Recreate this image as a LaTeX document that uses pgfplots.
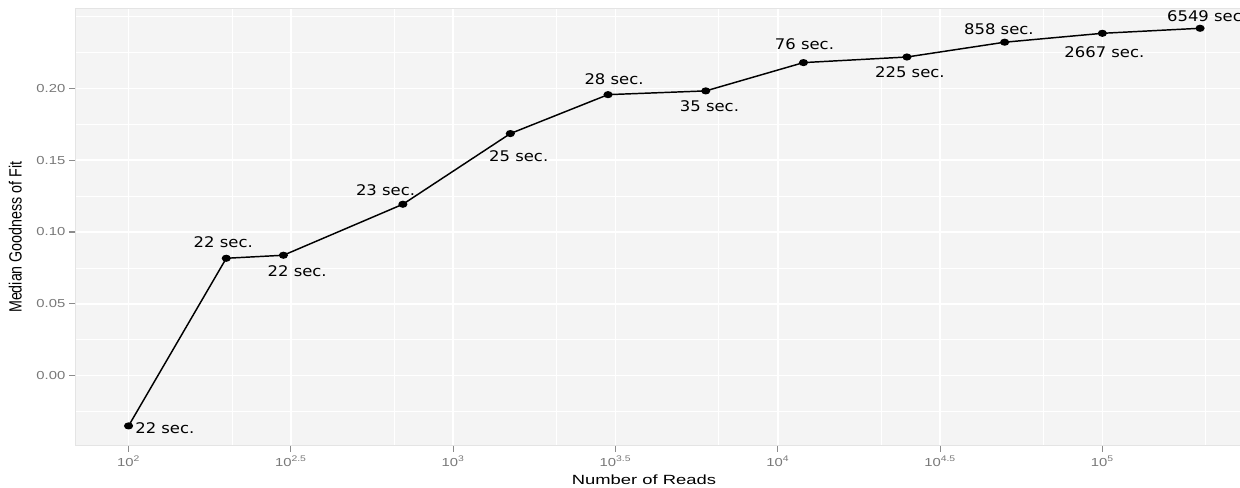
\documentclass[border=0pt]{standalone}
\usepackage{fontspec}
\setmainfont{Liberation Sans}
\newfontfamily\tickfont[FakeStretch=1.28]{Liberation Sans}
\newfontfamily\xtitlefont[FakeStretch=1.38]{Liberation Sans}
\newfontfamily\ytitlefont{Liberation Sans}
\newfontfamily\labfont[FakeStretch=1.12]{DejaVu Sans}
\usepackage{pgfplots}
\pgfplotsset{compat=1.18}
\usetikzlibrary{calc}
\definecolor{panel}{RGB}{244,244,244}
\definecolor{pborder}{RGB}{228,228,228}
\definecolor{ticktext}{RGB}{120,120,120}
\definecolor{tickmark}{RGB}{140,140,140}
\tikzset{lab/.style={font=\labfont\fontsize{11}{13}\selectfont, inner sep=0pt, anchor=center}}
\begin{document}
\begin{tikzpicture}
\begin{axis}[
  name=ax,
  xmode=log,
  scale only axis,
  width=884pt, height=328.05pt,
  xmin=68.4, xmax=292500,
  ymin=-0.04884, ymax=0.25564,
  clip=false,
  axis background/.style={fill=panel},
  axis line style={draw=pborder, line width=0.75pt},
  xtick={100,316.228,1000,3162.28,10000,31622.8,100000},
  xticklabels={{10\textsuperscript{2}},{10\textsuperscript{2.5}},{10\textsuperscript{3}},{10\textsuperscript{3.5}},{10\textsuperscript{4}},{10\textsuperscript{4.5}},{10\textsuperscript{5}}},
  minor xtick={208.1,658.1,2081,6581,20811,65811,208114},
  ytick={0,0.05,0.1,0.15,0.2},
  yticklabels={0.00,0.05,0.10,0.15,0.20},
  minor ytick={-0.025,0.025,0.075,0.125,0.175,0.225,0.25},
  grid=both,
  major grid style={white, line width=1.1pt},
  minor grid style={white, line width=0.55pt},
  tick align=outside,
  tick pos=left,
  major tick length=4.5pt,
  minor tick length=0pt,
  tick style={tickmark, line width=0.8pt},
  xticklabel style={font=\tickfont\fontsize{8.7}{10}\selectfont, text=ticktext, inner sep=0pt, anchor=north, yshift=-2.8pt},
  yticklabel style={font=\tickfont\fontsize{8.7}{10}\selectfont, text=ticktext, inner sep=0pt, anchor=east, xshift=-2.6pt},
  xlabel={\xtitlefont\fontsize{10}{12}\selectfont Number of Reads},
  xlabel style={at={(axis description cs:0.4827,-0.0880)}, anchor=base, inner sep=0pt},
  ylabel={\scalebox{1}[1.24]{\ytitlefont\fontsize{10.7}{12}\selectfont Median Goodness of Fit}},
  ylabel style={at={(axis description cs:-0.04522,0.477)}, anchor=base, inner sep=0pt},
]
\addplot[black, line width=1.1pt, mark=*, mark size=2.1pt, mark options={xscale=1.35}] coordinates {
  (100,-0.0350) (200,0.0817) (300,0.0838) (700,0.1193) (1500,0.1685) (3000,0.1956)
  (6000,0.1982) (12000,0.2179) (25000,0.2218) (50000,0.2321) (100000,0.2383) (200000,0.2418)
};
\node[lab, xshift=27.2pt, yshift=-1.5pt] at (axis cs:100,-0.0350) {22 sec.};
\node[lab, xshift=-2.25pt, yshift=12.2pt] at (axis cs:200,0.0817) {22 sec.};
\node[lab, xshift=10.3pt, yshift=-11.8pt] at (axis cs:300,0.0838) {22 sec.};
\node[lab, xshift=-13pt, yshift=10.2pt] at (axis cs:700,0.1193) {23 sec.};
\node[lab, xshift=6.3pt, yshift=-17.3pt] at (axis cs:1500,0.1685) {25 sec.};
\node[lab, xshift=4.5pt, yshift=11.5pt] at (axis cs:3000,0.1956) {28 sec.};
\node[lab, xshift=2.8pt, yshift=-11.8pt] at (axis cs:6000,0.1982) {35 sec.};
\node[lab, xshift=0.75pt, yshift=13.5pt] at (axis cs:12000,0.2179) {76 sec.};
\node[lab, xshift=2.25pt, yshift=-11pt] at (axis cs:25000,0.2218) {225 sec.};
\node[lab, xshift=-4.3pt, yshift=9.75pt] at (axis cs:50000,0.2321) {858 sec.};
\node[lab, xshift=1.5pt, yshift=-14.25pt] at (axis cs:100000,0.2383) {2667 sec.};
\node[lab, xshift=5.25pt, yshift=9.2pt] at (axis cs:200000,0.2418) {6549 sec.};
\end{axis}
\pgfresetboundingbox
\path ($(ax.south west)+(-56.25pt,-31.65pt)$) rectangle ($(ax.north west)+(873.75pt,6.3pt)$);
\end{tikzpicture}
\end{document}
